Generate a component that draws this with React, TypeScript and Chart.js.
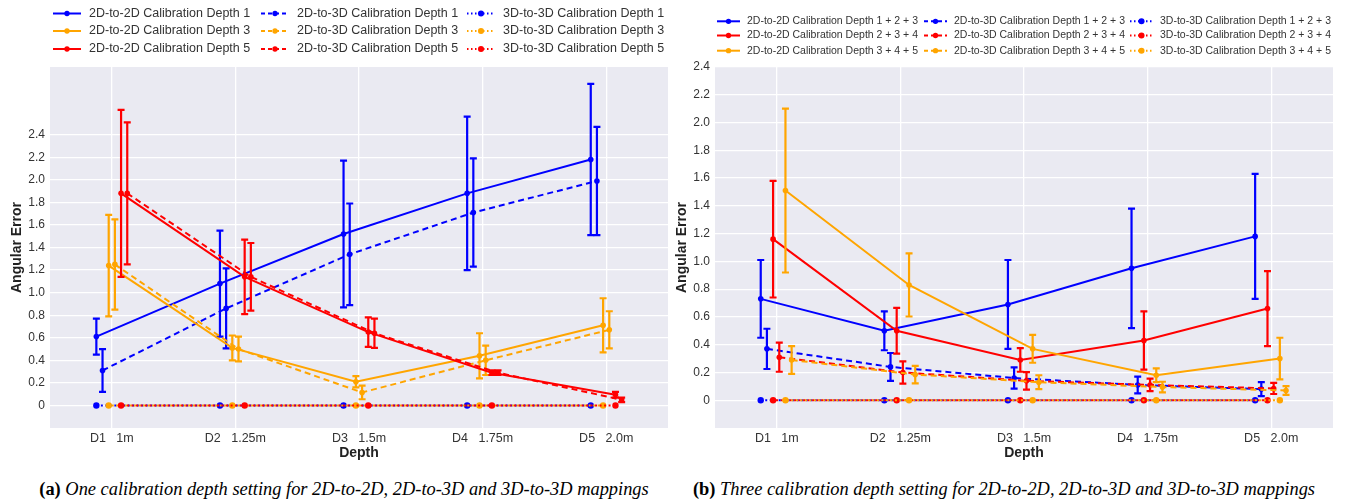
import React, { useEffect, useRef } from "react";
import { Chart, registerables } from "chart.js";

Chart.register(...registerables);

// ---------- shared axis data ----------
const DEPTH_POS = [1, 2, 3, 4, 5];
const DEPTH_LABELS = ["D1   1m", "D2   1.25m", "D3   1.5m", "D4   1.75m", "D5   2.0m"];
const Y_TICKS = [0, 0.2, 0.4, 0.6, 0.8, 1.0, 1.2, 1.4, 1.6, 1.8, 2.0, 2.2, 2.4];

// ---------- (a) one calibration depth ----------
const a_2d2d_d1 = [0.61, 1.08, 1.52, 1.88, 2.18];
const a_2d2d_d1_err = [0.16, 0.47, 0.65, 0.68, 0.67];
const a_2d3d_d1 = [0.31, 0.86, 1.34, 1.71, 1.99];
const a_2d3d_d1_err = [0.19, 0.355, 0.45, 0.48, 0.48];
const a_3d3d_d1 = [0, 0, 0, 0, 0];

const a_2d2d_d3 = [1.24, 0.51, 0.21, 0.44, 0.71];
const a_2d2d_d3_err = [0.45, 0.11, 0.05, 0.2, 0.24];
const a_2d3d_d3 = [1.25, 0.5, 0.115, 0.4, 0.67];
const a_2d3d_d3_err = [0.4, 0.11, 0.06, 0.13, 0.165];
const a_3d3d_d3 = [0, 0, 0, 0, 0];

const a_2d2d_d5 = [1.88, 1.14, 0.65, 0.29, 0.095];
const a_2d2d_d5_err = [0.74, 0.33, 0.13, 0.02, 0.025];
const a_2d3d_d5 = [1.88, 1.14, 0.64, 0.29, 0.05];
const a_2d3d_d5_err = [0.63, 0.3, 0.13, 0.02, 0.02];
const a_3d3d_d5 = [0, 0, 0, 0, 0];

// ---------- (b) three calibration depths ----------
const b_2d2d_123 = [0.73, 0.5, 0.69, 0.95, 1.18];
const b_2d2d_123_err = [0.28, 0.14, 0.32, 0.43, 0.45];
const b_2d3d_123 = [0.37, 0.24, 0.16, 0.11, 0.08];
const b_2d3d_123_err = [0.145, 0.1, 0.077, 0.06, 0.05];
const b_3d3d_123 = [0, 0, 0, 0, 0];

const b_2d2d_234 = [1.16, 0.5, 0.29, 0.43, 0.66];
const b_2d2d_234_err = [0.42, 0.165, 0.085, 0.21, 0.27];
const b_2d3d_234 = [0.31, 0.2, 0.14, 0.11, 0.085];
const b_2d3d_234_err = [0.105, 0.08, 0.063, 0.045, 0.04];
const b_3d3d_234 = [0, 0, 0, 0, 0];

const b_2d2d_345 = [1.51, 0.83, 0.37, 0.18, 0.3];
const b_2d2d_345_err = [0.59, 0.227, 0.1, 0.05, 0.15];
const b_2d3d_345 = [0.29, 0.185, 0.13, 0.095, 0.07];
const b_2d3d_345_err = [0.1, 0.063, 0.05, 0.038, 0.032];
const b_3d3d_345 = [0, 0, 0, 0, 0];

const CAPTION_A_LABEL = "(a)";
const CAPTION_A_TEXT = "One calibration depth setting for 2D-to-2D, 2D-to-3D and 3D-to-3D mappings";
const CAPTION_B_LABEL = "(b)";
const CAPTION_B_TEXT = "Three calibration depth setting for 2D-to-2D, 2D-to-3D and 3D-to-3D mappings";

// ---------- styling ----------
const BLUE = "#0000ff";
const ORANGE = "#ffa500";
const RED = "#ff0000";
const FONT = "'Liberation Sans', Arial, sans-serif";
const STYLE: Record<string, { dash: number[]; width: number; radius: number; dashOffset: number }> = {
  solid: { dash: [], width: 2, radius: 2.8, dashOffset: 0 },
  dashed: { dash: [6, 4], width: 2, radius: 2.8, dashOffset: 0 },
  dotted: { dash: [2, 2.5], width: 2, radius: 3.2, dashOffset: 0 },
};

type Series = {
  label: string;
  values: number[];
  errors?: number[];
  color: string;
  style: string;
  offset: number;
  row: number;
  col: number;
};

const seriesA: Series[] = [
  { label: "2D-to-2D Calibration Depth 1", values: a_2d2d_d1, errors: a_2d2d_d1_err, color: BLUE, style: "solid", offset: -0.125, row: 0, col: 0 },
  { label: "2D-to-3D Calibration Depth 1", values: a_2d3d_d1, errors: a_2d3d_d1_err, color: BLUE, style: "dashed", offset: -0.075, row: 0, col: 1 },
  { label: "3D-to-3D Calibration Depth 1", values: a_3d3d_d1, color: BLUE, style: "dotted", offset: -0.125, row: 0, col: 2 },
  { label: "2D-to-2D Calibration Depth 3", values: a_2d2d_d3, errors: a_2d2d_d3_err, color: ORANGE, style: "solid", offset: -0.025, row: 1, col: 0 },
  { label: "2D-to-3D Calibration Depth 3", values: a_2d3d_d3, errors: a_2d3d_d3_err, color: ORANGE, style: "dashed", offset: 0.025, row: 1, col: 1 },
  { label: "3D-to-3D Calibration Depth 3", values: a_3d3d_d3, color: ORANGE, style: "dotted", offset: -0.025, row: 1, col: 2 },
  { label: "2D-to-2D Calibration Depth 5", values: a_2d2d_d5, errors: a_2d2d_d5_err, color: RED, style: "solid", offset: 0.075, row: 2, col: 0 },
  { label: "2D-to-3D Calibration Depth 5", values: a_2d3d_d5, errors: a_2d3d_d5_err, color: RED, style: "dashed", offset: 0.125, row: 2, col: 1 },
  { label: "3D-to-3D Calibration Depth 5", values: a_3d3d_d5, color: RED, style: "dotted", offset: 0.075, row: 2, col: 2 },
];

const seriesB: Series[] = [
  { label: "2D-to-2D Calibration Depth 1 + 2 + 3", values: b_2d2d_123, errors: b_2d2d_123_err, color: BLUE, style: "solid", offset: -0.13, row: 0, col: 0 },
  { label: "2D-to-3D Calibration Depth 1 + 2 + 3", values: b_2d3d_123, errors: b_2d3d_123_err, color: BLUE, style: "dashed", offset: -0.08, row: 0, col: 1 },
  { label: "3D-to-3D Calibration Depth 1 + 2 + 3", values: b_3d3d_123, color: BLUE, style: "dotted", offset: -0.13, row: 0, col: 2 },
  { label: "2D-to-2D Calibration Depth 2 + 3 + 4", values: b_2d2d_234, errors: b_2d2d_234_err, color: RED, style: "solid", offset: -0.03, row: 1, col: 0 },
  { label: "2D-to-3D Calibration Depth 2 + 3 + 4", values: b_2d3d_234, errors: b_2d3d_234_err, color: RED, style: "dashed", offset: 0.02, row: 1, col: 1 },
  { label: "3D-to-3D Calibration Depth 2 + 3 + 4", values: b_3d3d_234, color: RED, style: "dotted", offset: -0.03, row: 1, col: 2 },
  { label: "2D-to-2D Calibration Depth 3 + 4 + 5", values: b_2d2d_345, errors: b_2d2d_345_err, color: ORANGE, style: "solid", offset: 0.07, row: 2, col: 0 },
  { label: "2D-to-3D Calibration Depth 3 + 4 + 5", values: b_2d3d_345, errors: b_2d3d_345_err, color: ORANGE, style: "dashed", offset: 0.12, row: 2, col: 1 },
  { label: "3D-to-3D Calibration Depth 3 + 4 + 5", values: b_3d3d_345, color: ORANGE, style: "dotted", offset: 0.07, row: 2, col: 2 },
];

// ---------- plugins ----------
const bgPlugin = {
  id: "plotBg",
  beforeDraw(chart: any) {
    const { ctx, chartArea } = chart;
    ctx.save();
    ctx.fillStyle = "#eaeaf2";
    ctx.fillRect(chartArea.left, chartArea.top, chartArea.right - chartArea.left, chartArea.bottom - chartArea.top);
    ctx.restore();
  },
};

const errorBarPlugin = {
  id: "errorBars",
  afterDatasetDraw(chart: any, args: any) {
    const ds = chart.data.datasets[args.index];
    if (!ds.errors) return;
    const ys = chart.scales.y;
    const ctx = chart.ctx;
    const area = chart.chartArea;
    ctx.save();
    ctx.beginPath();
    ctx.rect(area.left, area.top, area.right - area.left, area.bottom - area.top);
    ctx.clip();
    ctx.strokeStyle = ds.borderColor;
    ctx.lineWidth = 2.2;
    ctx.setLineDash([]);
    args.meta.data.forEach((pt: any, i: number) => {
      const e = ds.errors[i];
      if (!e) return;
      const v = ds.data[i].y;
      const x = pt.x;
      const yt = ys.getPixelForValue(v + e);
      const yb = ys.getPixelForValue(v - e);
      ctx.beginPath();
      ctx.moveTo(x, yt);
      ctx.lineTo(x, yb);
      ctx.moveTo(x - 3.5, yt);
      ctx.lineTo(x + 3.5, yt);
      ctx.moveTo(x - 3.5, yb);
      ctx.lineTo(x + 3.5, yb);
      ctx.stroke();
    });
    ctx.restore();
  },
};

const gridLegendPlugin = {
  id: "gridLegend",
  afterDraw(chart: any, _args: any, opts: any) {
    const ctx = chart.ctx;
    ctx.save();
    ctx.font = `${opts.fontSize}px ${FONT}`;
    ctx.textBaseline = "middle";
    ctx.textAlign = "left";
    chart.data.datasets.forEach((ds: any) => {
      const x0 = opts.cols[ds.legendCol];
      const y = opts.rows[ds.legendRow];
      const w = opts.sampleWidth;
      ctx.strokeStyle = ds.borderColor;
      ctx.lineWidth = 2;
      ctx.setLineDash(ds.legendDash);
      ctx.beginPath();
      ctx.moveTo(x0, y);
      ctx.lineTo(x0 + w, y);
      ctx.stroke();
      ctx.setLineDash([]);
      ctx.fillStyle = ds.borderColor;
      ctx.beginPath();
      ctx.arc(x0 + w / 2, y, ds.pointRadius * 0.95, 0, Math.PI * 2);
      ctx.fill();
      ctx.fillStyle = "#333";
      ctx.fillText(ds.label, x0 + opts.textOffset, y);
    });
    ctx.restore();
  },
};

function buildConfig(series: Series[], yMax: number, legendOpts: any, yTickSize: number): any {
  const legendDash: Record<string, number[]> = { solid: [], dashed: [4, 3], dotted: [1.5, 2.5] };
  const datasets = series.map((s, i) => {
    const st = STYLE[s.style];
    return {
      label: s.label,
      data: s.values.map((v, k) => ({ x: DEPTH_POS[k] + s.offset, y: v })),
      errors: s.errors,
      borderColor: s.color,
      backgroundColor: s.color,
      borderWidth: st.width,
      borderDash: st.dash,
      borderDashOffset: s.style === "dotted" ? s.row * 1.5 : 0,
      pointRadius: st.radius,
      pointHoverRadius: st.radius,
      pointBorderWidth: 0,
      pointBackgroundColor: s.color,
      fill: false,
      tension: 0,
      order: 100 - i,
      legendRow: s.row,
      legendCol: s.col,
      legendDash: legendDash[s.style],
    };
  });
  return {
    type: "line",
    data: { datasets },
    plugins: [bgPlugin, errorBarPlugin, gridLegendPlugin],
    options: {
      animation: false,
      responsive: false,
      maintainAspectRatio: false,
      events: [],
      layout: { padding: { top: 67, right: 12, bottom: 0, left: 0 } },
      plugins: {
        legend: { display: false },
        tooltip: { enabled: false },
        gridLegend: legendOpts,
      },
      scales: {
        x: {
          type: "linear",
          min: 0.5,
          max: 5.5,
          afterBuildTicks: (axis: any) => {
            axis.ticks = DEPTH_POS.map((v) => ({ value: v }));
          },
          afterFit: (s: any) => {
            s.height = 42;
          },
          grid: { color: "#ffffff", lineWidth: 1.3, drawTicks: false },
          border: { display: false },
          ticks: {
            autoSkip: false,
            maxRotation: 0,
            padding: 3,
            color: "#333",
            font: { family: FONT, size: 12.5 },
            callback: (v: number) => {
              const idx = DEPTH_POS.indexOf(Math.round(v));
              return idx >= 0 ? DEPTH_LABELS[idx] : "";
            },
          },
          title: {
            display: true,
            text: "Depth",
            color: "#222",
            font: { family: FONT, size: 14, weight: "bold" },
            padding: { top: 0, bottom: 8 },
          },
        },
        y: {
          type: "linear",
          min: -0.2,
          max: yMax,
          afterBuildTicks: (axis: any) => {
            axis.ticks = Y_TICKS.map((v) => ({ value: v }));
          },
          afterFit: (s: any) => {
            s.width = 50;
          },
          grid: { color: "#ffffff", lineWidth: 1.3, drawTicks: false },
          border: { display: false },
          ticks: {
            padding: 5,
            color: "#333",
            font: { family: FONT, size: yTickSize },
            callback: (v: number) => (Math.abs(v) < 1e-9 ? "0" : v.toFixed(1)),
          },
          title: {
            display: true,
            text: "Angular Error",
            color: "#222",
            font: { family: FONT, size: 14, weight: "bold" },
            padding: { top: 8.5, bottom: 0 },
          },
        },
      },
    },
  };
}

function ChartPanel({ config, left }: { config: () => any; left: number }) {
  const ref = useRef<HTMLCanvasElement>(null);
  useEffect(() => {
    const chart = new Chart(ref.current as HTMLCanvasElement, config());
    return () => chart.destroy();
  }, []);
  return (
    <canvas
      ref={ref}
      width={680}
      height={470}
      style={{ position: "absolute", left, top: 0, width: 680, height: 470 }}
    />
  );
}

function Caption({ label, text, center }: { label: string; text: string; center: number }) {
  return (
    <div
      style={{
        position: "absolute",
        left: center - 400,
        width: 800,
        top: 479,
        lineHeight: "20px",
        textAlign: "center",
        fontFamily: "'Liberation Serif', 'Times New Roman', serif",
        fontSize: 18.4,
        color: "#000",
        whiteSpace: "nowrap",
      }}
    >
      <b>{label}</b> <i>{text}</i>
    </div>
  );
}

export default function App() {
  return (
    <div
      style={{
        position: "fixed",
        left: 0,
        top: 0,
        width: 1345,
        height: 504,
        background: "#fff",
        overflow: "hidden",
      }}
    >
      <ChartPanel
        left={0}
        config={() =>
          buildConfig(
            seriesA,
            3.0,
            { cols: [53, 261, 467], rows: [13.5, 31, 49], sampleWidth: 28, textOffset: 36, fontSize: 12.5 },
            12
          )
        }
      />
      <ChartPanel
        left={665}
        config={() =>
          buildConfig(
            seriesB,
            2.4,
            { cols: [52, 259, 465], rows: [21.3, 35.5, 50.7], sampleWidth: 23, textOffset: 30, fontSize: 10.5 },
            12
          )
        }
      />
      <Caption label={CAPTION_A_LABEL} text={CAPTION_A_TEXT} center={344} />
      <Caption label={CAPTION_B_LABEL} text={CAPTION_B_TEXT} center={1004} />
    </div>
  );
}
